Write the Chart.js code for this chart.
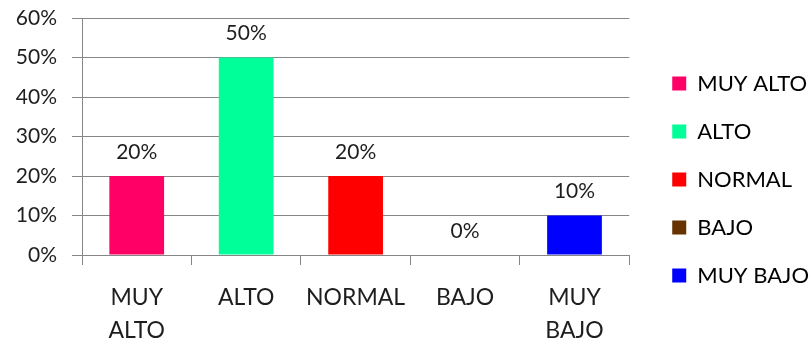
<!DOCTYPE html>
<html>
<head>
<meta charset="utf-8">
<script src="https://cdn.jsdelivr.net/npm/chart.js@4/dist/chart.umd.min.js"></script>
<style>
    html, body { margin: 0; padding: 0; background: #fff; }
    #wrap { width: 811px; height: 341px; }
</style>
</head>
<body>
<div id="wrap"><canvas id="nivelChart"></canvas></div>
<script>
const categorias = [["MUY", "ALTO"], "ALTO", "NORMAL", "BAJO", ["MUY", "BAJO"]];
const leyenda = ["MUY ALTO", "ALTO", "NORMAL", "BAJO", "MUY BAJO"];
const porcentajes = [20, 50, 20, 0, 10];
const colores = ["#FF0066", "#00FF99", "#FF0000", "#663300", "#0000FF"];
const ticksY = [0, 10, 20, 30, 40, 50, 60];

const FUENTE = "Lato, 'Open Sans', sans-serif";
const GRIS = "#868686";
const TEXTO = "#1e1e1e";

// porcentaje encima de cada barra
const etiquetasValor = {
    id: "etiquetasValor",
    afterDatasetsDraw(chart) {
        const ctx = chart.ctx;
        const meta = chart.getDatasetMeta(0);
        ctx.save();
        ctx.font = "21px " + FUENTE;
        ctx.fillStyle = TEXTO;
        ctx.textAlign = "center";
        ctx.textBaseline = "middle";
        meta.data.forEach((bar, i) => {
            ctx.fillText(porcentajes[i] + "%", bar.x, bar.y - 24);
        });
        ctx.restore();
    }
};

const ctx = document.getElementById("nivelChart").getContext("2d");

new Chart(ctx, {
    type: "bar",

    data: {
        labels: categorias,
        datasets: [{
            label: "Nivel",
            data: porcentajes,
            backgroundColor: colores,
            borderWidth: 0,
            barPercentage: 0.5,
            categoryPercentage: 1
        }]
    },

    options: {
        responsive: true,
        maintainAspectRatio: false,
        animation: false,
        layout: {
            padding: { top: 18, right: -8, bottom: 0, left: 0 }
        },
        plugins: {
            tooltip: { enabled: false },
            legend: {
                position: "right",
                maxWidth: 220,
                labels: {
                    font: { family: FUENTE, size: 22 },
                    color: TEXTO,
                    boxWidth: 14,
                    boxHeight: 14,
                    padding: 26,
                    generateLabels: () => leyenda.map((texto, i) => ({
                        text: texto,
                        fillStyle: colores[i],
                        strokeStyle: colores[i],
                        lineWidth: 0,
                        hidden: false,
                        index: i
                    }))
                }
            }
        },
        scales: {
            x: {
                afterFit: (scale) => { scale.height = 86; },
                grid: {
                    display: true,
                    drawOnChartArea: false,
                    drawTicks: true,
                    tickLength: 10,
                    color: GRIS
                },
                border: { display: true, color: GRIS },
                ticks: {
                    padding: 16,
                    color: TEXTO,
                    font: { family: FUENTE, size: 23, lineHeight: 1.43 },
                    maxRotation: 0
                }
            },
            y: {
                min: 0,
                max: 60,
                afterFit: (scale) => {
                    scale.width = 82;
                    scale.paddingTop = 0;
                    scale.paddingBottom = 0;
                },
                afterBuildTicks: (scale) => {
                    scale.ticks = ticksY.map(v => ({ value: v }));
                },
                grid: {
                    color: GRIS,
                    tickLength: 10
                },
                border: { display: true, color: GRIS },
                ticks: {
                    padding: 15,
                    color: TEXTO,
                    font: { family: FUENTE, size: 21 },
                    callback: (v) => v + "%"
                }
            },
            // eje vacío: separa el área de trazado de la leyenda
            hueco: {
                position: "right",
                display: true,
                afterFit: (scale) => { scale.width = 17; },
                grid: { display: false },
                border: { display: false },
                ticks: { display: false }
            }
        }
    },

    plugins: [etiquetasValor]
});
</script>
</body>
</html>
